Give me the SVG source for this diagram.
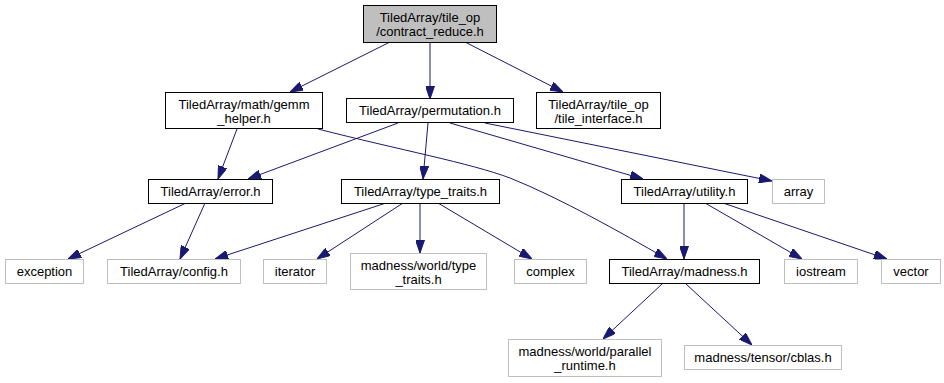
<svg xmlns="http://www.w3.org/2000/svg" width="944" height="383" viewBox="0 0 944 383">
  <style>
    text { font-family: "Liberation Sans", Arial, sans-serif; font-size: 13px; fill: #000; text-anchor: middle; }
    .box { fill: #fff; stroke: #000; stroke-width: 1; }
    .ext { fill: #fff; stroke: #bfbfbf; stroke-width: 1; }
    .root { fill: #bfbfbf; stroke: #000; stroke-width: 1; }
    .edge { fill: none; stroke: #191970; stroke-width: 1; marker-end: url(#head); }
  </style>
  <defs>
    <marker id="head" markerUnits="userSpaceOnUse" viewBox="0 0 13 9" refX="13" refY="4.5" markerWidth="13" markerHeight="9" orient="auto">
      <path d="M0,0 L13,4.5 L0,9 z" fill="#191970" stroke="#191970" stroke-width="1"/>
    </marker>
  </defs>
  <rect width="944" height="383" fill="#fff"/>

  <g id="connectors">
    <path class="edge" d="M390,42 L290,92"/>
    <path class="edge" d="M430,42 L430,99"/>
    <path class="edge" d="M465,42 L563,92"/>
    <path class="edge" d="M237,129 L218,179"/>
    <path class="edge" d="M398,123 L248,179"/>
    <path class="edge" d="M318,129 C400,150 470,163 510,178 C560,198 620,232 667,259"/>
    <path class="edge" d="M428,123 L423,179"/>
    <path class="edge" d="M450,123 L643,179"/>
    <path class="edge" d="M485,123 L772,181"/>
    <path class="edge" d="M186,203 L68,259"/>
    <path class="edge" d="M205,203 L180,259"/>
    <path class="edge" d="M386,203 L215,259"/>
    <path class="edge" d="M403,203 L317,259"/>
    <path class="edge" d="M420,203 L420,253"/>
    <path class="edge" d="M438,203 L532,259"/>
    <path class="edge" d="M684,203 L684,259"/>
    <path class="edge" d="M705,203 L802,259"/>
    <path class="edge" d="M723,203 L887,259"/>
    <path class="edge" d="M662,284 L603,339"/>
    <path class="edge" d="M686,284 L752,345"/>
  </g>

  <g id="contract_reduce">
    <rect class="root" x="363.5" y="5.5" width="133" height="37"/>
    <text x="430" y="22">TiledArray/tile_op</text>
    <text x="430" y="36">/contract_reduce.h</text>
  </g>
  <g id="gemm_helper">
    <rect class="box" x="165.5" y="92.5" width="157" height="36"/>
    <text x="244" y="109">TiledArray/math/gemm</text>
    <text x="244" y="123">_helper.h</text>
  </g>
  <g id="permutation">
    <rect class="box" x="346.5" y="98.5" width="167" height="24"/>
    <text x="430" y="115">TiledArray/permutation.h</text>
  </g>
  <g id="tile_interface">
    <rect class="box" x="536.5" y="92.5" width="124" height="36"/>
    <text x="598.5" y="109">TiledArray/tile_op</text>
    <text x="598.5" y="123">/tile_interface.h</text>
  </g>
  <g id="error">
    <rect class="box" x="148.5" y="179.5" width="124" height="24"/>
    <text x="210.5" y="196">TiledArray/error.h</text>
  </g>
  <g id="type_traits">
    <rect class="box" x="341.5" y="179.5" width="158" height="24"/>
    <text x="420.5" y="196">TiledArray/type_traits.h</text>
  </g>
  <g id="utility">
    <rect class="box" x="621.5" y="179.5" width="126" height="24"/>
    <text x="684.5" y="196">TiledArray/utility.h</text>
  </g>
  <g id="array">
    <rect class="ext" x="772.5" y="179.5" width="52" height="24"/>
    <text x="798.5" y="196">array</text>
  </g>
  <g id="exception">
    <rect class="ext" x="5.5" y="259.5" width="78" height="24"/>
    <text x="44.5" y="276">exception</text>
  </g>
  <g id="config">
    <rect class="ext" x="107.5" y="259.5" width="133" height="24"/>
    <text x="174" y="276">TiledArray/config.h</text>
  </g>
  <g id="iterator">
    <rect class="ext" x="263.5" y="259.5" width="63" height="24"/>
    <text x="295" y="276">iterator</text>
  </g>
  <g id="world_type_traits">
    <rect class="ext" x="350.5" y="253.5" width="136" height="36"/>
    <text x="418.5" y="270">madness/world/type</text>
    <text x="418.5" y="284">_traits.h</text>
  </g>
  <g id="complex">
    <rect class="ext" x="514.5" y="259.5" width="72" height="24"/>
    <text x="550.5" y="276">complex</text>
  </g>
  <g id="madness">
    <rect class="box" x="609.5" y="259.5" width="150" height="24"/>
    <text x="684.5" y="276">TiledArray/madness.h</text>
  </g>
  <g id="iostream">
    <rect class="ext" x="784.5" y="259.5" width="73" height="24"/>
    <text x="821" y="276">iostream</text>
  </g>
  <g id="vector">
    <rect class="ext" x="881.5" y="259.5" width="59" height="24"/>
    <text x="911" y="276">vector</text>
  </g>
  <g id="parallel_runtime">
    <rect class="ext" x="508.5" y="339.5" width="153" height="37"/>
    <text x="585" y="356">madness/world/parallel</text>
    <text x="585" y="370">_runtime.h</text>
  </g>
  <g id="cblas">
    <rect class="ext" x="684.5" y="345.5" width="157" height="24"/>
    <text x="763" y="362">madness/tensor/cblas.h</text>
  </g>
</svg>
